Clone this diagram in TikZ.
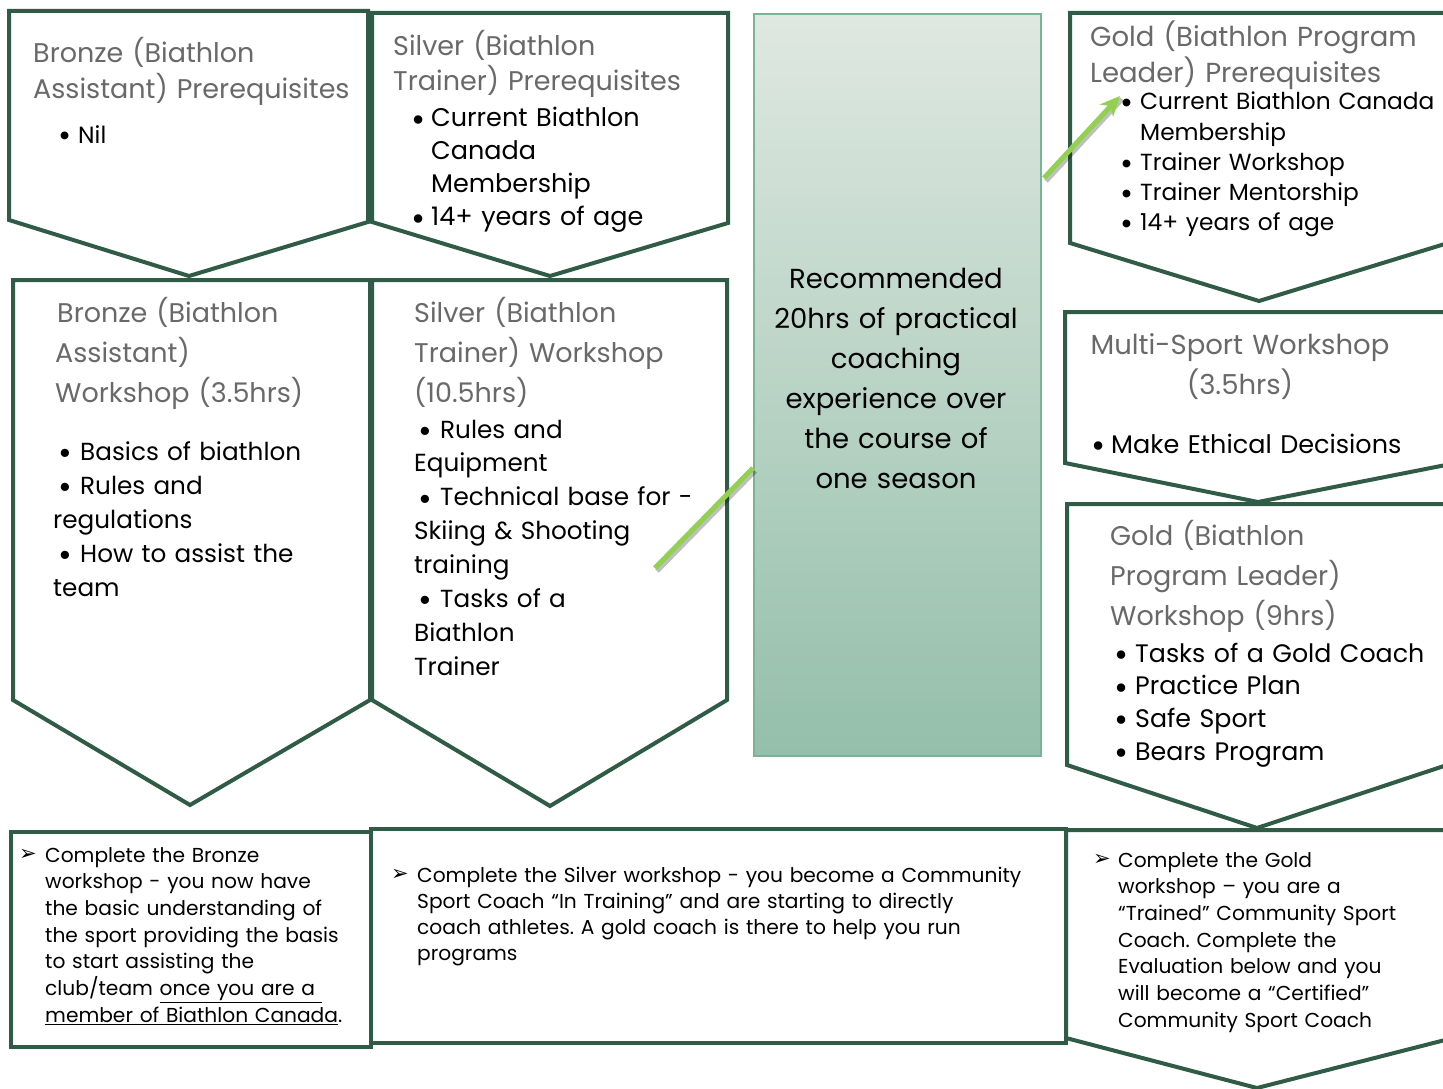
\documentclass[tikz,border=0pt]{standalone}
\usepackage{fontspec}
\setmainfont{Poppins}
\newfontfamily\dejavu{DejaVu Sans}
\usetikzlibrary{arrows.meta}
\definecolor{frame}{RGB}{47,91,71}
\definecolor{ttl}{RGB}{105,105,105}
\definecolor{lgreen}{RGB}{146,208,80}
\definecolor{ctop}{RGB}{223,232,225}
\definecolor{cbot}{RGB}{148,191,170}
\definecolor{cborder}{RGB}{122,180,150}
\newcommand{\bul}[1]{\makebox[#1][l]{\raisebox{-0.17em}{\scalebox{1.35}{\textbullet}}}}
\newcommand{\arr}[1]{\makebox[#1][l]{\raisebox{0.05em}{\dejavu\fontsize{21}{21}\selectfont ➢}}}
\tikzset{
  chev/.style={draw=frame, line width=4pt, fill=white, line join=miter},
  ttltxt/.style={anchor=base west, inner sep=0pt, text=ttl, align=left, text width=400pt, font=\fontsize{27}{40}\selectfont},
  bodytxt/.style={anchor=base west, inner sep=0pt, text=black, align=left, text width=400pt},
  greenln/.style={draw=lgreen, line width=5pt},
  shadowln/.style={draw=black, opacity=0.25, line width=5pt}
}
\begin{document}
\frenchspacing
\begin{tikzpicture}[x=1pt,y=-1pt]
\useasboundingbox (0,0) rectangle (1443,1089);
\clip (0,0) rectangle (1443,1089);
\fill[white] (0,0) rectangle (1443,1089);

% chevron shapes
\draw[chev] (9,11) -- (368,11) -- (368,222) -- (189,276) -- (9,220) -- cycle;
\draw[chev] (372,13) -- (728,13) -- (728,223) -- (550,276) -- (372,222) -- cycle;
\draw[chev] (1070,13) -- (1448,13) -- (1448,243) -- (1259,301) -- (1070,243) -- cycle;
\draw[chev] (13,280) -- (370,280) -- (370,700) -- (190,805) -- (13,700) -- cycle;
\draw[chev] (372,280) -- (727,280) -- (727,700) -- (550,806) -- (372,700) -- cycle;
\draw[chev] (1065,312) -- (1451,312) -- (1451,464) -- (1258,502) -- (1065,463) -- cycle;
\draw[chev] (1067,504) -- (1447,504) -- (1447,765) -- (1257,828) -- (1067,765) -- cycle;
\draw[chev] (1066,830) -- (1449,830) -- (1449,1039) -- (1257,1088) -- (1066,1038) -- cycle;
\draw[chev] (11,832) rectangle (371,1047);
\draw[chev] (371,829) rectangle (1066,1043);

% center box
\node[draw=cborder, line width=2pt, top color=ctop, bottom color=cbot, minimum width=287pt, minimum height=742pt, anchor=north west, inner sep=0pt] (center) at (753,13) {};
\node[anchor=base, inner sep=0pt, align=center, text width=290pt, font=\fontsize{27.5}{40}\selectfont] (centertxt) at (896,288) {Recommended\\20hrs of practical\\coaching\\experience over\\the course of\\one season};

% texts
\node[ttltxt, font=\fontsize{27}{36}\selectfont] (bpt) at (33,63) {Bronze (Biathlon\\Assistant) Prerequisites};
\node[bodytxt, font=\fontsize{23.5}{30}\selectfont] (bpb) at (58,143) {\bul{20pt}Nil};

\node[ttltxt, font=\fontsize{27}{35}\selectfont] (spt) at (393,56) {Silver (Biathlon\\Trainer) Prerequisites};
\node[bodytxt, font=\fontsize{25.5}{33}\selectfont] (spb) at (411,127) {\bul{20pt}Current Biathlon\\\hspace*{20pt}Canada\\\hspace*{20pt}Membership\\\bul{20pt}14+ years of age};

\node[ttltxt, font=\fontsize{27.5}{36}\selectfont] (gpt) at (1090,47) {Gold (Biathlon Program\\Leader) Prerequisites};
\node[bodytxt, font=\fontsize{23.3}{30.2}\selectfont] (gpb) at (1120,110) {\bul{20pt}Current Biathlon Canada\\\hspace*{20pt}Membership\\\bul{20pt}Trainer Workshop\\\bul{20pt}Trainer Mentorship\\\bul{20pt}14+ years of age};

\node[ttltxt] (bwt) at (55,322) {\hspace*{2pt}Bronze (Biathlon\\Assistant)\\Workshop (3.5hrs)};
\node[bodytxt, font=\fontsize{24.7}{34}\selectfont] (bwb) at (53,460) {\hspace*{5pt}\bul{22pt}Basics of biathlon\\\hspace*{5pt}\bul{22pt}Rules and\\regulations\\\hspace*{5pt}\bul{22pt}How to assist the\\team};

\node[ttltxt] (swt) at (414,322) {Silver (Biathlon\\Trainer) Workshop\\(10.5hrs)};
\node[bodytxt, font=\fontsize{24.7}{33.9}\selectfont] (swb) at (414,438) {\hspace*{4pt}\bul{22pt}Rules and\\Equipment\\\hspace*{4pt}\bul{22pt}Technical base for -\\Skiing \& Shooting\\training\\\hspace*{4pt}\bul{22pt}Tasks of a\\Biathlon\\Trainer};

\node[anchor=base, inner sep=0pt, text=ttl, align=center, text width=400pt, font=\fontsize{27.5}{40}\selectfont] (mst) at (1240,354) {Multi-Sport Workshop\\(3.5hrs)};
\node[bodytxt, font=\fontsize{25.5}{34}\selectfont] (msb) at (1090,453) {\hspace*{1pt}\bul{20pt}Make Ethical Decisions};

\node[ttltxt] (gwt) at (1110,545) {Gold (Biathlon\\Program Leader)\\Workshop (9hrs)};
\node[bodytxt, font=\fontsize{25.3}{32.7}\selectfont] (gwb) at (1112,662) {\hspace*{2pt}\bul{21pt}Tasks of a Gold Coach\\\hspace*{2pt}\bul{21pt}Practice Plan\\\hspace*{2pt}\bul{21pt}Safe Sport\\\hspace*{2pt}\bul{21pt}Bears Program};

\node[bodytxt, font=\fontsize{20.2}{26.7}\selectfont] (blx) at (19,862) {\arr{26pt}Complete the Bronze\\\hspace*{26pt}workshop - you now have\\\hspace*{26pt}the basic understanding of\\\hspace*{26pt}the sport providing the basis\\\hspace*{26pt}to start assisting the\\\hspace*{26pt}club/team \underline{once you are a\ }\\\hspace*{26pt}\underline{member of Biathlon Canada}.};

\node[bodytxt, text width=700pt, font=\fontsize{20.2}{26.3}\selectfont] (bmx) at (391,882) {\arr{26pt}Complete the Silver workshop - you become a Community\\\hspace*{26pt}Sport Coach “In Training” and are starting to directly\\\hspace*{26pt}coach athletes. A gold coach is there to help you run\\\hspace*{26pt}programs};

\node[bodytxt, font=\fontsize{20.2}{26.7}\selectfont] (brx) at (1093,867) {\arr{25pt}Complete the Gold\\\hspace*{25pt}workshop – you are a\\\hspace*{25pt}“Trained” Community Sport\\\hspace*{25pt}Coach. Complete the\\\hspace*{25pt}Evaluation below and you\\\hspace*{25pt}will become a “Certified”\\\hspace*{25pt}Community Sport Coach};

% green connectors
\coordinate (g1a) at (655,568);
\path (center.north west) ++(0,455) coordinate (g1b);
\path (center.north east) ++(2,165) coordinate (g2a);
\coordinate (g2b) at (1120,96);
\draw[shadowln] ([shift={(2,3)}]g1a) -- ([shift={(2,3)}]g1b);
\draw[greenln] (g1a) -- (g1b);
\draw[shadowln] ([shift={(2,3)}]g2a) -- ([shift={(2,3)}]g2b);
\draw[greenln, -{Stealth[length=20pt,width=18pt]}] (g2a) -- (g2b);
\end{tikzpicture}
\end{document}
